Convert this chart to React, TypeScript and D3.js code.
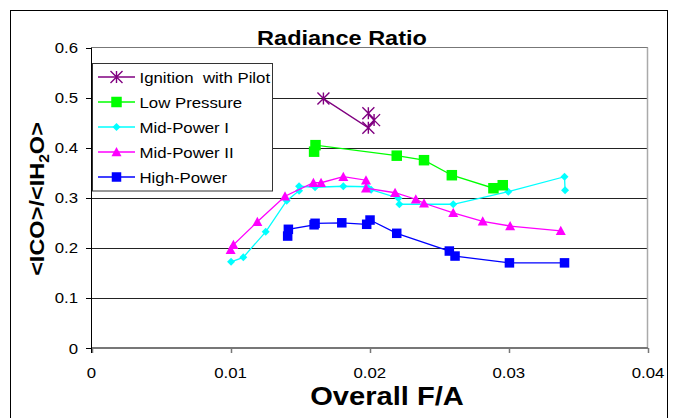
import React from "react";
import * as d3 from "d3";

const seriesNames = ["Ignition  with Pilot", "Low Pressure", "Mid-Power I", "Mid-Power II", "High-Power"];

const ignitionX = [0.01667, 0.0199, 0.02031, 0.0199];
const ignitionY = [0.498, 0.4397, 0.455, 0.4685];

const lowPressureX = [0.0160, 0.0161, 0.02194, 0.0239, 0.0259, 0.02889, 0.02956];
const lowPressureY = [0.392, 0.405, 0.384, 0.375, 0.345, 0.319, 0.325];

const midPower1X = [0.01003, 0.01091, 0.01252, 0.01403, 0.01492, 0.01492, 0.01607, 0.0181, 0.0198, 0.0201, 0.02206, 0.02213, 0.026, 0.02996, 0.034, 0.03404];
const midPower1Y = [0.172, 0.181, 0.232, 0.294, 0.314, 0.323, 0.321, 0.323, 0.322, 0.316, 0.299, 0.287, 0.287, 0.312, 0.342, 0.315];

const midPower2X = [0.0100, 0.0102, 0.01192, 0.01391, 0.01595, 0.0165, 0.0181, 0.01973, 0.01973, 0.02182, 0.02331, 0.0239, 0.026, 0.02812, 0.03009, 0.03373];
const midPower2Y = [0.196, 0.206, 0.252, 0.303, 0.330, 0.330, 0.342, 0.335, 0.319, 0.310, 0.297, 0.289, 0.270, 0.253, 0.2435, 0.234];

const highPowerX = [0.0141, 0.01415, 0.0160, 0.01607, 0.01799, 0.01978, 0.02002, 0.02194, 0.02572, 0.02613, 0.03004, 0.034];
const highPowerY = [0.2235, 0.237, 0.246, 0.249, 0.250, 0.247, 0.2555, 0.229, 0.1936, 0.1836, 0.170, 0.170];

const xTicks = [0, 0.01, 0.02, 0.03, 0.04];
const xTickLabels = ["0", "0.01", "0.02", "0.03", "0.04"];
const yTicks = [0, 0.1, 0.2, 0.3, 0.4, 0.5, 0.6];
const yTickLabels = ["0", "0.1", "0.2", "0.3", "0.4", "0.5", "0.6"];

const colors = ["#800080", "#00ff00", "#00ffff", "#ff00ff", "#0000ff"];
const markerKinds = ["star", "square", "diamond", "triangle", "square"];
const markerSizes = [12, 10.5, 8, 10, 9.5];

const FONT = "'Liberation Sans', Arial, Helvetica, sans-serif";
const S = 1.12;

function Marker({ kind, x, y, size, color }: { kind: string; x: number; y: number; size: number; color: string }) {
  const h = size / 2;
  if (kind === "square") return <rect x={x - h} y={y - h} width={size} height={size} fill={color} />;
  if (kind === "diamond") return <path d={`M${x},${y - h}L${x + h},${y}L${x},${y + h}L${x - h},${y}Z`} fill={color} />;
  if (kind === "triangle") return <path d={`M${x},${y - h}L${x + h},${y + h * 0.85}L${x - h},${y + h * 0.85}Z`} fill={color} />;
  return (
    <path
      d={`M${x - h},${y - h}L${x + h},${y + h}M${x + h},${y - h}L${x - h},${y + h}M${x},${y - h}L${x},${y + h}`}
      stroke={color}
      strokeWidth={1.4}
      fill="none"
    />
  );
}

function T({ x, y, children, anchor = "middle", size = 14, weight = "normal", rotate = 0 }: any) {
  return (
    <text
      transform={`translate(${x},${y}) rotate(${rotate}) scale(${S},1)`}
      textAnchor={anchor}
      fontFamily={FONT}
      fontSize={size}
      fontWeight={weight}
      fill="#000"
      style={{ whiteSpace: "pre" }}
    >
      {children}
    </text>
  );
}

export default function App() {
  const x = d3.scaleLinear().domain([0, 0.04]).range([91.5, 648]);
  const y = d3.scaleLinear().domain([0, 0.6]).range([348, 47.5]);

  const series = [
    { xs: ignitionX, ys: ignitionY },
    { xs: lowPressureX, ys: lowPressureY },
    { xs: midPower1X, ys: midPower1Y },
    { xs: midPower2X, ys: midPower2Y },
    { xs: highPowerX, ys: highPowerY },
  ];

  const line = d3
    .line<[number, number]>()
    .x((d) => x(d[0]))
    .y((d) => y(d[1]));

  const drawOrder = [2, 3, 1, 4, 0];

  return (
    <svg width={676} height={418} style={{ position: "absolute", left: 0, top: 0, background: "#fff" }}>
      <rect x={0} y={0} width={676} height={418} fill="#fff" />
      <rect x={10.5} y={10.5} width={657} height={420} fill="none" stroke="#000" strokeWidth={1} />

      {/* gridlines */}
      {yTicks.slice(1, 6).map((t) => (
        <line key={t} x1={x(0)} x2={x(0.04)} y1={Math.round(y(t)) + 0.5} y2={Math.round(y(t)) + 0.5} stroke="#222" strokeWidth={1} />
      ))}
      {/* plot area border */}
      <line x1={x(0)} x2={x(0.04)} y1={47.5} y2={47.5} stroke="#777" strokeWidth={1} />
      <line x1={647.5} x2={647.5} y1={47.5} y2={348} stroke="#aaa" strokeWidth={1.5} />

      {/* x axis */}
      <line x1={x(0)} x2={x(0.04)} y1={348} y2={348} stroke="#777" strokeWidth={2} />
      {xTicks.map((t) => (
        <line key={t} x1={Math.round(x(t)) + 0.5} x2={Math.round(x(t)) + 0.5} y1={348} y2={353} stroke="#777" strokeWidth={1.5} />
      ))}
      {xTicks.map((t, i) => (
        <T key={t} x={x(t)} y={378} size={15}>
          {xTickLabels[i]}
        </T>
      ))}

      {/* y axis */}
      <line x1={91.5} x2={91.5} y1={47.5} y2={353} stroke="#000" strokeWidth={1} />
      {yTicks.map((t) => (
        <line key={t} x1={86} x2={91.5} y1={Math.round(y(t)) + 0.5} y2={Math.round(y(t)) + 0.5} stroke="#000" strokeWidth={1} />
      ))}
      {yTicks.map((t, i) => (
        <T key={t} x={78} y={y(t) + 5.5} size={15} anchor="end">
          {yTickLabels[i]}
        </T>
      ))}

      {/* series */}
      {drawOrder.map((si) => {
        const s = series[si];
        const pts: [number, number][] = s.xs.map((v, i) => [v, s.ys[i]]);
        return (
          <g key={si}>
            <path d={line(pts) || ""} fill="none" stroke={colors[si]} strokeWidth={1.3} />
            {pts.map((p, i) => (
              <Marker key={i} kind={markerKinds[si]} x={x(p[0])} y={y(p[1])} size={markerSizes[si]} color={colors[si]} />
            ))}
          </g>
        );
      })}

      {/* legend */}
      <rect x={92.5} y={63.5} width={180} height={127.5} fill="#fff" stroke="#333" strokeWidth={1} />
      {seriesNames.map((name, i) => {
        const cy = 77 + i * 25;
        return (
          <g key={name}>
            <line x1={98} x2={135} y1={cy} y2={cy} stroke={colors[i]} strokeWidth={1.3} />
            <Marker kind={markerKinds[i]} x={116.5} y={cy} size={markerSizes[i]} color={colors[i]} />
            <T x={139.5} y={cy + 5.5} size={15} anchor="start">
              {name}
            </T>
          </g>
        );
      })}

      {/* titles */}
      <T x={342} y={45} size={21} weight="bold">
        Radiance Ratio
      </T>
      <T x={387} y={405} size={26} weight="bold">
        Overall F/A
      </T>
      <T x={44} y={199} size={21} weight="bold" rotate={-90}>
        {"<ICO>/<IH"}
        <tspan fontSize={14} dy={5}>2</tspan>
        <tspan dy={-5}>{"O>"}</tspan>
      </T>
    </svg>
  );
}
